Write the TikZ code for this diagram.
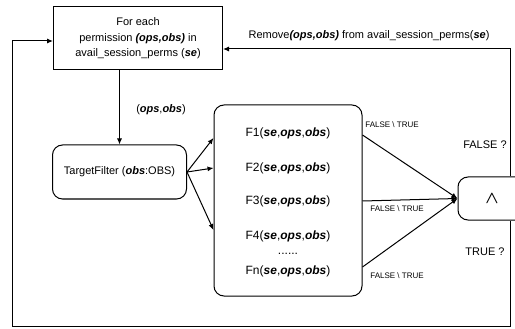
\documentclass[tikz,border=0pt]{standalone}
\usepackage{amsmath, amssymb}
\usepackage{fontspec}
\setmainfont{Liberation Sans}
\usetikzlibrary{arrows.meta}
\newcommand{\bi}[1]{\textbf{\textit{#1}}}

\begin{document}
\begin{tikzpicture}[x=1pt,y=1pt,yscale=-1,xscale=1,
  box/.style={draw, line width=1pt, align=center, inner sep=0pt, font=\fontsize{11}{15.5}\selectfont},
  rbox/.style={box, rounded corners=10pt},
  txt/.style={inner sep=0.75pt, align=center, font=\fontsize{11}{14}\selectfont},
  ftxt/.style={txt, font=\fontsize{12}{14}\selectfont},
  flag/.style={inner sep=0.75pt, font=\fontsize{8}{10}\selectfont},
  arr/.style={line width=1pt, -{Latex[length=6pt,width=5pt]}}]
\useasboundingbox (0,0) rectangle (515,329);
\clip (0,0) rectangle (515,329);

%Shape: Rect [id:perm]
\node [box, minimum width=169, minimum height=63] (perm) at (138,38.5) {For each\\permission \bi{(ops,obs)} in\\avail\_session\_perms (\bi{se})};
%Rounded Rect [id:filter]
\node [rbox, minimum width=134, minimum height=54] (filter) at (119.5,172) {TargetFilter (\bi{obs}:OBS)};
%Rounded Rect [id:funcs]
\node [rbox, minimum width=148, minimum height=191] (funcs) at (288,200.5) {};
%Rounded Rect [id:and]
\node [rbox, minimum width=68, minimum height=43] (and) at (492,198.5) {\fontsize{16}{16}\selectfont$\boldsymbol{\wedge}$};

% Text Node
\node [ftxt] (f1) at (288,133) {F1(\bi{se},\bi{ops},\bi{obs})};
% Text Node
\node [ftxt] (f2) at (288,168) {F2(\bi{se},\bi{ops},\bi{obs})};
% Text Node
\node [ftxt] (f3) at (288,201) {F3(\bi{se},\bi{ops},\bi{obs})};
% Text Node
\node [ftxt] (f4) at (288,236) {F4(\bi{se},\bi{ops},\bi{obs})};
% Text Node
\node [ftxt] (dots) at (288,254) {......};
% Text Node
\node [ftxt] (fn) at (288,271) {Fn(\bi{se},\bi{ops},\bi{obs})};

%Corner points of the loops
\coordinate (upR) at (510,49);
\coordinate (lowR) at (510,326);
\coordinate (lowL) at (12,326);

%Straight Lines
\draw [arr] (perm.south -| filter.north) -- (filter.north);
\draw [arr] (filter.east) -- (funcs.west |- 0,138);
\draw [arr] (filter.east) -- (funcs.west |- f2);
\draw [arr] (filter.east) -- (funcs.west |- 0,230);
\draw [arr] (funcs.east |- 0,135) -- (and.west);
\draw [arr] (funcs.east |- f3) -- (and.west);
\draw [arr] (funcs.east |- 0,267) -- (and.west);
\draw [arr] (and.north -| upR) -- (upR) -- (perm.east |- upR);
\draw [arr] (and.south -| lowR) -- (lowR) -- (lowL) -- (lowL |- 0,41) -- (perm.west |- 0,41);

% Text Node
\node [txt] (rmv) at (369,36) {Remove\bi{(ops,obs)} from avail\_session\_perms(\bi{se})};
% Text Node
\node [txt] (pair) at (161,110) {(\bi{ops},\bi{obs})};
% Text Node
\node [flag] (ft1) at (392,125) {FALSE \textbackslash{} TRUE};
% Text Node
\node [flag] (ft2) at (397,209) {FALSE \textbackslash{} TRUE};
% Text Node
\node [flag] (ft3) at (397,276) {FALSE \textbackslash{} TRUE};
% Text Node
\node [txt] (nq) at (485,145) {FALSE ?};
% Text Node
\node [txt] (yq) at (485,252) {TRUE ?};

\end{tikzpicture}
\end{document}
